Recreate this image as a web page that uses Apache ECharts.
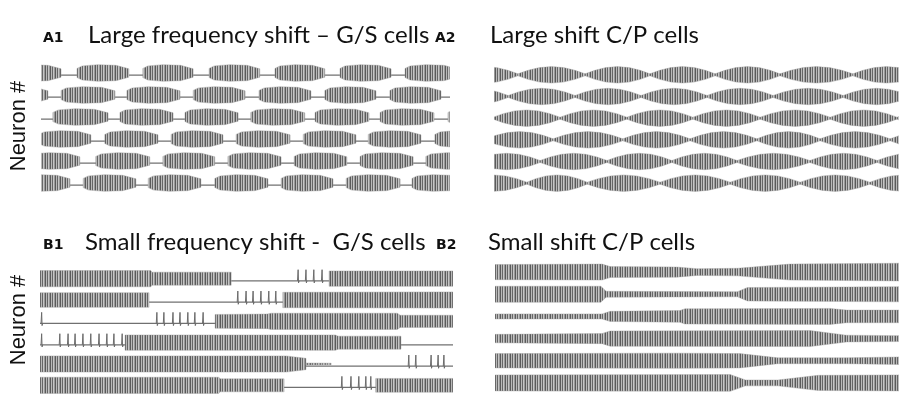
<!DOCTYPE html>
<html>
<head>
<meta charset="utf-8">
<script src="https://cdn.jsdelivr.net/npm/echarts@6/dist/echarts.min.js"></script>
<style>
  html, body { margin: 0; padding: 0; background: #fff; }
  #chart { width: 901px; height: 396px; }
</style>
</head>
<body>
<div id="chart"></div>
<script>
// ---- Data (time in ms, 0–1000 per panel; neurons listed top to bottom) ----

// A1: burst windows [start, end] of each G/S cell
const a1Bursts = [
  [[-78, 49], [88, 215], [249, 372], [411, 535], [572, 694], [731, 856], [890, 1017]],
  [[-110, 17], [49, 181], [210, 340], [372, 499], [533, 660], [694, 819], [853, 978]],
  [[29, 164], [193, 323], [352, 482], [513, 645], [670, 802], [829, 961], [995, 1122]],
  [[-5, 122], [156, 286], [318, 445], [477, 609], [641, 770], [800, 929], [963, 1090]],
  [[-32, 95], [134, 266], [298, 425], [457, 587], [619, 748], [780, 910], [941, 1068]],
  [[-56, 71], [103, 232], [262, 391], [425, 555], [587, 714], [746, 878], [907, 1034]]
];
// envelope of one burst: [fraction of burst, relative amplitude]
const a1BurstEnvelope = [[0, 0.55], [0.1, 0.85], [0.4, 1], [0.75, 0.92], [1, 0.5]];

// A2: times of the amplitude minima (beat nodes) of each C/P cell
const a2Nodes = [
  [-106, 59, 225, 385, 546, 706, 886, 1052],
  [-131, 35, 200, 363, 526, 689, 862, 1027],
  [-2, 163, 328, 491, 657, 830, 995, 1160],
  [-20, 146, 318, 484, 649, 805, 978, 1143],
  [-52, 114, 279, 439, 600, 780, 946, 1111],
  [-84, 81, 230, 410, 583, 756, 928, 1094]
];
// envelope of one beat cycle: [fraction of cycle, relative amplitude]
const a2BeatEnvelope = [[0, 0.12], [0.15, 0.55], [0.32, 0.88], [0.5, 1], [0.68, 0.88], [0.85, 0.55], [1, 0.12]];

// B1: tonic segments as [time, relative amplitude] envelopes, and isolated spikes
const b1Tonic = [
  [[[0, 1], [268, 1], [272, 0.8], [463, 0.8]], [[700, 0.95], [1000, 0.95]]],
  [[[0, 0.9], [264, 0.9]], [[588, 0.95], [1000, 1]]],
  [[[424, 0.85], [550, 0.9], [560, 1], [865, 1], [872, 0.75], [1000, 0.75]]],
  [[[206, 0.95], [715, 0.95], [722, 0.8], [874, 0.8]]],
  [[[0, 1], [596, 1], [644, 0.7]], [[644, 0.12], [705, 0.1]]],
  [[[0, 1], [433, 1], [436, 0.8], [591, 0.8]], [[813, 0.85], [1000, 0.85]]]
];
const b1Spikes = [
  [625, 644, 663, 683],
  [479, 499, 516, 535, 554, 571],
  [4, 283, 300, 322, 339, 358, 375, 395],
  [4, 48, 68, 85, 104, 123, 143, 162, 179, 199],
  [893, 910, 947, 964, 978],
  [731, 753, 772, 789, 801]
];

// B2: amplitude envelopes [time, relative amplitude] of each C/P cell
const b2Envelopes = [
  [[0, 0.9], [265, 0.95], [285, 0.65], [450, 0.6], [500, 0.4], [600, 0.45], [730, 0.95], [1000, 1.05]],
  [[0, 0.95], [262, 0.95], [275, 0.35], [600, 0.3], [625, 0.8], [1000, 0.9]],
  [[0, 0.3], [265, 0.3], [285, 0.6], [458, 0.7], [470, 0.9], [830, 0.95], [870, 0.75], [1000, 0.75]],
  [[0, 0.5], [265, 0.6], [285, 0.9], [780, 0.95], [870, 0.4], [1000, 0.35]],
  [[0, 0.85], [450, 0.9], [606, 0.85], [700, 0.35], [870, 0.35], [1000, 0.45]],
  [[0, 0.95], [582, 1], [620, 0.35], [700, 0.35], [800, 0.9], [1000, 0.95]]
];

const neurons = [0, 1, 2, 3, 4, 5];

// ---- Rendering helpers ----
const AMP = 0.38;        // half trace height, in row units
const BASELINE = -0.1;   // resting level relative to row centre
const TRACE = '#6b6b6b';

// dense oscillation drawn as a fine vertical-stripe fill
function stripeFill() {
  const c = document.createElement('canvas');
  c.width = 5; c.height = 2;
  const ctx = c.getContext('2d');
  const cols = ['#5a5a5a', '#b9b9b9', '#666666', '#c6c6c6', '#9a9a9a'];
  cols.forEach((col, i) => { ctx.fillStyle = col; ctx.fillRect(i, 0, 1, 2); });
  return { type: 'pattern', image: c, repeat: 'repeat' };
}
const STRIPES = stripeFill();

function scaleEnvelope(win, shape) {
  const [t0, t1] = win;
  return shape.map(([f, a]) => [t0 + f * (t1 - t0), a]);
}

function bandsFor(panel, i) {
  if (panel === 'A1') return a1Bursts[i].map(w => scaleEnvelope(w, a1BurstEnvelope));
  if (panel === 'A2') {
    const n = a2Nodes[i], out = [];
    for (let k = 0; k < n.length - 1; k++) out.push(scaleEnvelope([n[k], n[k + 1]], a2BeatEnvelope));
    return out;
  }
  if (panel === 'B1') return b1Tonic[i];
  return [b2Envelopes[i]];
}

function makeRenderer(panel) {
  const hasBaseline = panel === 'A1' || panel === 'B1';
  return function (params, api) {
    const i = api.value(0);
    const row = 5 - i;
    const children = [];
    if (hasBaseline) {
      const a = api.coord([0, row + BASELINE]);
      const b = api.coord([1000, row + BASELINE]);
      children.push({ type: 'line', shape: { x1: a[0], y1: a[1], x2: b[0], y2: b[1] },
        style: { stroke: '#707070', lineWidth: 1.2 } });
    }
    bandsFor(panel, i).forEach(env => {
      const upper = env.map(([t, a]) => api.coord([t, row + a * AMP]));
      const lower = env.slice().reverse().map(([t, a]) => api.coord([t, row - a * AMP]));
      children.push({ type: 'polygon', shape: { points: upper.concat(lower) },
        style: { fill: STRIPES, stroke: '#a0a0a0', lineWidth: 0.4 } });
    });
    if (panel === 'B1') {
      b1Spikes[i].forEach(t => {
        const pts = [[t - 1.5, row + BASELINE], [t, row + 0.42], [t + 1, row - 0.2], [t + 2.5, row + BASELINE]]
          .map(p => api.coord(p));
        children.push({ type: 'polyline', shape: { points: pts }, style: { stroke: TRACE, lineWidth: 1, fill: null } });
      });
    }
    return { type: 'group', children };
  };
}

// ---- Layout ----
const panels = [
  { id: 'A1', grid: { left: 41, top: 62, width: 409, height: 132 } },
  { id: 'A2', grid: { left: 494, top: 64, width: 405, height: 130 } },
  { id: 'B1', grid: { left: 40, top: 268, width: 413, height: 128 } },
  { id: 'B2', grid: { left: 495, top: 261, width: 404, height: 133 } }
];

const chart = echarts.init(document.getElementById('chart'), null, { renderer: 'canvas' });

const titleFont = '24px Lato';
const tagFont = 'bold 14px "DejaVu Sans"';
function text(x, y, str, font) {
  return { type: 'text', x: x, y: y, silent: true,
    style: { text: str, font: font, fill: '#111', align: 'left', verticalAlign: 'middle' } };
}

chart.setOption({
  animation: false,
  backgroundColor: '#fff',
  grid: panels.map(p => Object.assign({ containLabel: false }, p.grid)),
  xAxis: panels.map((p, k) => ({ gridIndex: k, type: 'value', min: 0, max: 1000, show: false })),
  yAxis: panels.map((p, k) => ({ gridIndex: k, type: 'value', min: -0.5, max: 5.5, show: false })),
  series: panels.map((p, k) => ({
    type: 'custom', name: p.id, xAxisIndex: k, yAxisIndex: k, clip: true,
    data: neurons.map(n => [n]), renderItem: makeRenderer(p.id)
  })),
  graphic: [
    text(43, 38, 'A1', tagFont),
    text(88, 35, 'Large frequency shift \u2013 G/S cells', titleFont),
    text(435, 38, 'A2', tagFont),
    text(490, 35, 'Large shift C/P cells', titleFont),
    text(43, 245, 'B1', tagFont),
    text(85, 242, 'Small frequency shift -  G/S cells', titleFont),
    text(436, 245, 'B2', tagFont),
    text(488, 242, 'Small shift C/P cells', titleFont),
    { type: 'text', x: 19, y: 126, rotation: Math.PI / 2, silent: true,
      style: { text: 'Neuron #', font: '22px "Liberation Sans"', fill: '#111', align: 'center', verticalAlign: 'middle' } },
    { type: 'text', x: 19, y: 320, rotation: Math.PI / 2, silent: true,
      style: { text: 'Neuron #', font: '22px "Liberation Sans"', fill: '#111', align: 'center', verticalAlign: 'middle' } }
  ]
});
</script>
</body>
</html>
